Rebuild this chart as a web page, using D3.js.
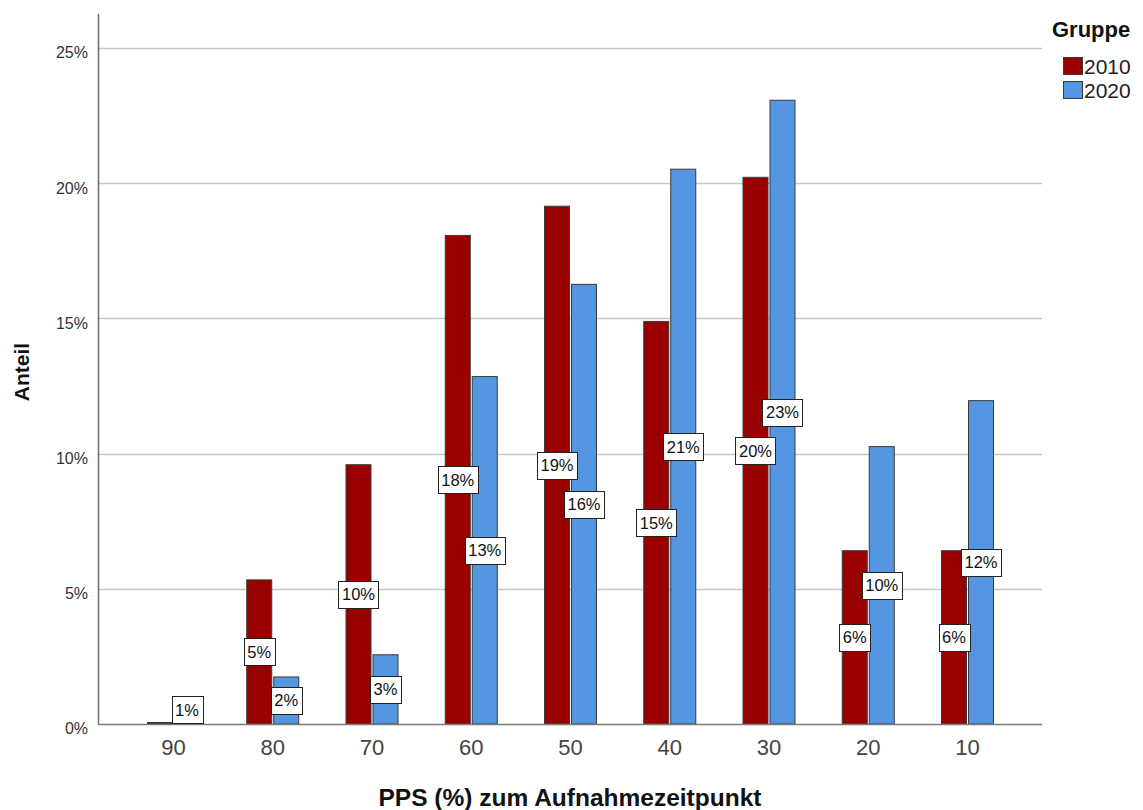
<!DOCTYPE html>
<html>
<head>
<meta charset="utf-8">
<script src="https://cdn.jsdelivr.net/npm/d3@7"></script>
<style>
  html, body { margin: 0; padding: 0; background: #fff; }
  svg { display: block; font-family: "Liberation Sans", Arial, sans-serif; }
</style>
</head>
<body>
<svg id="chart" width="1143" height="810"></svg>
<script>
// ---- data ----
const categories = ["90", "80", "70", "60", "50", "40", "30", "20", "10"];
const groups = ["2010", "2020"];
const values2010 = [0.05, 5.33, 9.59, 18.07, 19.15, 14.89, 20.22, 6.41, 6.41];
const values2020 = [0.9, 1.74, 2.56, 12.85, 16.26, 20.52, 23.07, 10.26, 11.96];
const yTicks = [0, 5, 10, 15, 20, 25];
const colors = ["#990000", "#5596e2"];
const xTitle = "PPS (%) zum Aufnahmezeitpunkt";
const yTitle = "Anteil";
const legendTitle = "Gruppe";

// ---- layout ----
const svg = d3.select("#chart");
const plot = { left: 98, right: 1042, top: 14, bottom: 724 };

const x = d3.scalePoint()
  .domain(categories)
  .range([plot.left + 75, plot.right - 75]);

const y = d3.scaleLinear()
  .domain([0, 26.26])
  .range([plot.bottom, plot.top]);

const barW = 25;
const offsets = [-26, 1];

// gridlines
svg.append("g")
  .selectAll("line")
  .data(yTicks.filter(t => t > 0))
  .join("line")
  .attr("x1", plot.left)
  .attr("x2", plot.right)
  .attr("y1", d => Math.round(y(d)) + 0.5)
  .attr("y2", d => Math.round(y(d)) + 0.5)
  .attr("stroke", "#c8c8c8")
  .attr("stroke-width", 1.5);

// y axis
const yAxis = d3.axisLeft(y)
  .tickValues(yTicks)
  .tickFormat(d => d + "%")
  .tickSize(0)
  .tickPadding(10);
const gy = svg.append("g")
  .attr("transform", `translate(${plot.left},0)`)
  .call(yAxis);
gy.select(".domain").remove();
gy.selectAll("text")
  .attr("font-size", 16)
  .attr("dy", "0.62em")
  .attr("fill", "#333")
  .attr("font-family", "Liberation Sans, Arial, sans-serif");

// bars
const series = [values2010, values2020];
series.forEach((vals, gi) => {
  svg.append("g")
    .selectAll("rect")
    .data(vals.map((v, i) => ({ cat: categories[i], v })))
    .join("rect")
    .attr("x", d => x(d.cat) + offsets[gi] + 0.5)
    .attr("y", d => Math.min(y(d.v), plot.bottom - 1.5))
    .attr("width", barW)
    .attr("height", d => Math.max(plot.bottom - y(d.v), 1.5))
    .attr("fill", colors[gi])
    .attr("stroke", "#3a3a3a")
    .attr("stroke-width", 1);
});

// axis lines
svg.append("line")
  .attr("x1", plot.left + 0.5).attr("x2", plot.left + 0.5)
  .attr("y1", plot.top).attr("y2", plot.bottom)
  .attr("stroke", "#6e6e6e").attr("stroke-width", 1.5);
svg.append("line")
  .attr("x1", plot.left).attr("x2", plot.right)
  .attr("y1", plot.bottom + 0.5).attr("y2", plot.bottom + 0.5)
  .attr("stroke", "#7a7a7a").attr("stroke-width", 1.5);

// x axis labels
const xAxis = d3.axisBottom(x).tickSize(0).tickPadding(15);
const gx = svg.append("g")
  .attr("transform", `translate(0,${plot.bottom})`)
  .call(xAxis);
gx.select(".domain").remove();
gx.selectAll("text")
  .attr("font-size", 22)
  .attr("fill", "#444")
  .attr("font-family", "Liberation Sans, Arial, sans-serif");

// value labels
const boxH = 27;
series.forEach((vals, gi) => {
  const g = svg.append("g");
  vals.forEach((v, i) => {
    const r = Math.round(v);
    if (r <= 0) return;
    const label = r + "%";
    const cx = x(categories[i]) + offsets[gi] + barW / 2 + 0.5;
    let cy = (y(v) + plot.bottom) / 2;
    cy = Math.min(cy, plot.bottom - boxH / 2 - 1);
    const t = g.append("text")
      .attr("x", cx)
      .attr("y", cy + 6)
      .attr("text-anchor", "middle")
      .attr("font-size", 16.5)
      .attr("fill", "#111")
      .text(label);
    const w = t.node().getComputedTextLength() + 7;
    g.insert("rect", "text")
      .attr("x", Math.round(cx - w / 2) + 0.5)
      .attr("y", Math.round(cy - boxH / 2) + 0.5)
      .attr("width", Math.round(w))
      .attr("height", boxH)
      .attr("fill", "#fff")
      .attr("stroke", "#222")
      .attr("stroke-width", 1);
  });
});

// titles
svg.append("text")
  .attr("x", (plot.left + plot.right) / 2)
  .attr("y", 806)
  .attr("text-anchor", "middle")
  .attr("font-size", 24.5)
  .attr("font-weight", "bold")
  .attr("fill", "#111")
  .text(xTitle);

svg.append("text")
  .attr("transform", `translate(29,372) rotate(-90)`)
  .attr("text-anchor", "middle")
  .attr("font-size", 21)
  .attr("font-weight", "bold")
  .attr("fill", "#111")
  .text(yTitle);

// legend
const lg = svg.append("g");
lg.append("text")
  .attr("x", 1052)
  .attr("y", 37)
  .attr("font-size", 22)
  .attr("font-weight", "bold")
  .attr("fill", "#111")
  .text(legendTitle);
groups.forEach((gname, i) => {
  const yy = 57 + i * 24;
  lg.append("rect")
    .attr("x", 1063.5).attr("y", yy + 0.5)
    .attr("width", 19).attr("height", 17)
    .attr("fill", colors[i])
    .attr("stroke", "#3a3a3a").attr("stroke-width", 1);
  lg.append("text")
    .attr("x", 1084)
    .attr("y", yy + 17)
    .attr("font-size", 21)
    .attr("fill", "#222")
    .text(gname);
});
</script>
</body>
</html>
